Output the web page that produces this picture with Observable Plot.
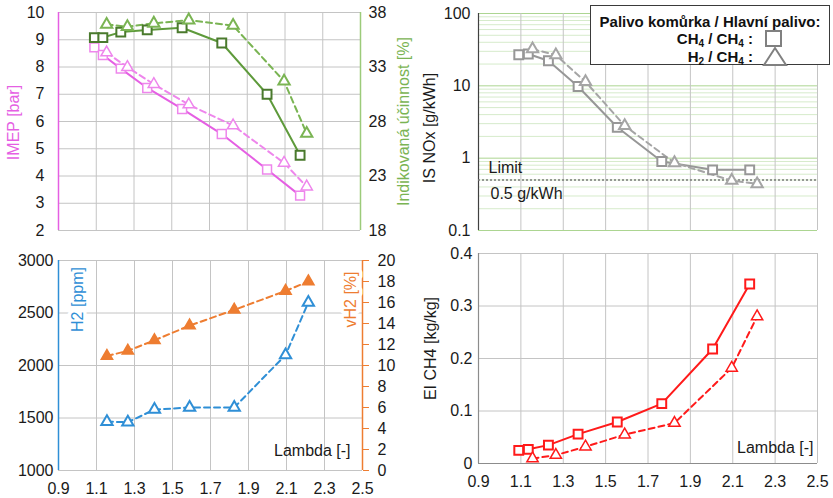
<!DOCTYPE html>
<html><head><meta charset="utf-8">
<script src="https://cdn.jsdelivr.net/npm/d3@7"></script>
<script src="https://cdn.jsdelivr.net/npm/@observablehq/plot@0.6"></script>
<style>
body{margin:0;background:#fff;font-family:"Liberation Sans",Arial,sans-serif;}
#wrap{position:relative;width:833px;height:498px;overflow:hidden;background:#fff;}
#legend{position:absolute;left:590px;top:5px;width:238px;height:58px;border:1.5px solid #3a3a3a;background:#fff;font-weight:bold;font-size:15px;color:#111;}
#legend span{position:absolute;white-space:nowrap;line-height:16px;}
#legend sub{font-size:10px;vertical-align:-3px;line-height:0;}
#legend svg{position:absolute;}
</style></head><body><div id="wrap"></div>
<script>
// ---------------- data ----------------
const lambdaCH4 = [1.09, 1.135, 1.23, 1.37, 1.555, 1.765, 2.005, 2.18];
const lambdaH2  = [1.155, 1.265, 1.405, 1.59, 1.825, 2.095, 2.215];

const imepCH4 = [8.72, 8.44, 7.94, 7.23, 6.46, 5.54, 4.24, 3.28];
const imepH2  = [8.53, 7.99, 7.37, 6.62, 5.85, 4.48, 3.61];
const effCH4  = [35.7, 35.7, 36.2, 36.4, 36.6, 35.2, 30.5, 24.9];
const effH2   = [36.9, 36.7, 37.0, 37.3, 36.8, 31.7, 26.9];

const noxCH4 = [26.9, 27.5, 22.2, 9.8, 2.67, 0.9, 0.69, 0.69];
const noxH2  = [32.2, 26.6, 11.4, 2.81, 0.86, 0.49, 0.44];
const noxLimit = 0.5;

const h2ppm = [1465, 1460, 1580, 1600, 1600, 2100, 2600];
const vH2   = [10.9, 11.4, 12.4, 13.8, 15.3, 17.1, 18.0];

const eiCH4_CH4 = [0.025, 0.027, 0.035, 0.056, 0.079, 0.114, 0.218, 0.342];
const eiCH4_H2  = [0.0095, 0.016, 0.032, 0.055, 0.077, 0.182, 0.280];

// ---------------- ticks / domains ----------------
const xDomain = [0.9, 2.5];
const xTicks = [0.9, 1.1, 1.3, 1.5, 1.7, 1.9, 2.1, 2.3, 2.5];
const imepDomain = [2, 10];
const imepTicks = [2, 3, 4, 5, 6, 7, 8, 9, 10];
const effDomain = [18, 38];
const effTicks = [18, 23, 28, 33, 38];
const noxDomain = [0.1, 100];
const noxTicks = [0.1, 1, 10, 100];
const noxMinorMult = [2, 3, 4, 5, 6, 7, 8, 9];
const h2Domain = [1000, 3000];
const h2Ticks = [1000, 1500, 2000, 2500, 3000];
const vh2Domain = [0, 20];
const vh2Ticks = [0, 2, 4, 6, 8, 10, 12, 14, 16, 18, 20];
const eiDomain = [0, 0.4];
const eiTicks = [0, 0.1, 0.2, 0.3, 0.4];

const labels = {
  imep: "IMEP [bar]", eff: "Indikovaná účinnost [%]", nox: "IS NOx [g/kWh]",
  h2: "H2 [ppm]", vh2: "vH2 [%]", ei: "EI CH4 [kg/kg]", lambda: "Lambda [-]",
  limit: "Limit", limitVal: "0.5 g/kWh"
};

// ---------------- styles ----------------
const GRID = "#c4c4c4";
const MAG = "#e55fe3", MAG_T = "#ee86ec";
const GR_LINE = "#5e9a3b", GR_MARK = "#4a7a2d", GR_T = "#7ab453", GR_AX = "#9ccb7a";
const GRAY_S = "#979797", GRAY_T = "#a5a5a5";
const BLUE = "#2f8fd6", ORANGE = "#ee7d31", RED = "#ff1a1a";
const FONT = '"Liberation Sans", Arial, sans-serif';
const baseStyle = {fontFamily: FONT, fontSize: "16px", background: "transparent", overflow: "visible", color: "#1a1a1a"};
const DASH = "6,4";

const rows = (xs, ys) => xs.map((x, i) => ({x, y: ys[i]}));
const lin = (d0, d1) => v => d1[0] + (v - d0[0]) * (d1[1] - d1[0]) / (d0[1] - d0[0]);
const effToImep = lin(effDomain, imepDomain), imepToEff = lin(imepDomain, effDomain);
const vToH2 = lin(vh2Domain, h2Domain), h2ToV = lin(h2Domain, vh2Domain);
const noxMinor = noxTicks.slice(0, -1).flatMap(d => noxMinorMult.map(m => d * m));

const wrap = document.getElementById("wrap");
function place(svg, left, top) {
  svg.style.position = "absolute"; svg.style.left = left + "px"; svg.style.top = top + "px";
  wrap.appendChild(svg);
}
const title = (t, anchor, dx, dy, fill, halo) => Plot.text([t], {
  text: d => d, frameAnchor: anchor, textAnchor: "middle", lineAnchor: "middle", rotate: -90, dx, dy, fill, fontSize: 16,
  ...(halo ? {stroke: "white", strokeWidth: 7} : {})
});
const TXT = "#1a1a1a";

// ---------------- top-left: IMEP + efficiency ----------------
place(Plot.plot({
  width: 420, height: 240, marginLeft: 58, marginRight: 60, marginTop: 12, marginBottom: 10,
  style: baseStyle,
  x: {domain: xDomain, axis: null},
  y: {domain: imepDomain, axis: null},
  marks: [
    Plot.gridX(xTicks, {stroke: GRID, strokeOpacity: 1}),
    Plot.gridY(imepTicks, {stroke: GRID, strokeOpacity: 1}),
    Plot.ruleX([xDomain[0]], {stroke: MAG, strokeWidth: 1.5}),
    Plot.ruleX([xDomain[1]], {stroke: GR_AX, strokeWidth: 1.5}),
    Plot.axisY(imepTicks, {anchor: "left", tickSize: 0, tickPadding: 14, fill: TXT, tickFormat: d => String(d), label: null}),
    Plot.axisY(effTicks.map(effToImep), {anchor: "right", tickSize: 0, tickPadding: 8, fill: TXT, tickFormat: d => String(Math.round(imepToEff(d))), label: null}),
    Plot.line(rows(lambdaCH4, imepCH4), {x: "x", y: "y", stroke: MAG, strokeWidth: 2}),
    Plot.line(rows(lambdaH2, imepH2), {x: "x", y: "y", stroke: MAG_T, strokeWidth: 2, strokeDasharray: DASH}),
    Plot.line(rows(lambdaCH4, effCH4.map(effToImep)), {x: "x", y: "y", stroke: GR_LINE, strokeWidth: 2}),
    Plot.line(rows(lambdaH2, effH2.map(effToImep)), {x: "x", y: "y", stroke: GR_T, strokeWidth: 2, strokeDasharray: DASH}),
    Plot.dot(rows(lambdaCH4, imepCH4), {x: "x", y: "y", symbol: "square", r: 5, stroke: MAG_T, fill: "white", strokeWidth: 1.5}),
    Plot.dot(rows(lambdaH2, imepH2), {x: "x", y: "y", symbol: "triangle", r: 4.2, stroke: MAG_T, fill: "white", strokeWidth: 1.5}),
    Plot.dot(rows(lambdaCH4, effCH4.map(effToImep)), {x: "x", y: "y", symbol: "square", r: 5, stroke: GR_MARK, fill: "white", strokeWidth: 2}),
    Plot.dot(rows(lambdaH2, effH2.map(effToImep)), {x: "x", y: "y", symbol: "triangle", r: 4.2, stroke: GR_T, fill: "white", strokeWidth: 2}),
    title(labels.imep, "left", -45, 1, MAG),
    title(labels.eff, "right", 43, 0, GR_T)
  ]
}), 0, 0);

// ---------------- top-right: NOx ----------------
place(Plot.plot({
  width: 413, height: 240, marginLeft: 58, marginRight: 16, marginTop: 13, marginBottom: 10,
  style: baseStyle,
  x: {domain: xDomain, axis: null},
  y: {type: "log", domain: noxDomain, axis: null},
  marks: [
    Plot.gridY(noxMinor, {stroke: "#d6ebcb", strokeOpacity: 1}),
    Plot.gridY(noxTicks, {stroke: "#acd591", strokeOpacity: 1}),
    Plot.gridX(xTicks.slice(1), {stroke: GRID, strokeOpacity: 1}),
    Plot.ruleX([xDomain[0]], {stroke: "#404040", strokeWidth: 1.2}),
    Plot.axisY(noxTicks, {anchor: "left", tickSize: 0, tickPadding: 8, fill: TXT, tickFormat: d => String(d), label: null}),
    Plot.ruleY([noxLimit], {stroke: "#7a7a7a", strokeDasharray: "2,2", strokeWidth: 1.5}),
    Plot.text([noxLimit], {y: d => d, frameAnchor: "left", text: () => labels.limit, textAnchor: "start", dx: 10, dy: -12, fontSize: 16, fill: TXT}),
    Plot.text([noxLimit], {y: d => d, frameAnchor: "left", text: () => labels.limitVal, textAnchor: "start", dx: 12, dy: 14, fontSize: 16, fill: TXT}),
    Plot.line(rows(lambdaCH4, noxCH4), {x: "x", y: "y", stroke: GRAY_S, strokeWidth: 2}),
    Plot.line(rows(lambdaH2, noxH2), {x: "x", y: "y", stroke: GRAY_T, strokeWidth: 2, strokeDasharray: DASH}),
    Plot.dot(rows(lambdaCH4, noxCH4), {x: "x", y: "y", symbol: "square", r: 5, stroke: GRAY_S, fill: "white", strokeWidth: 2}),
    Plot.dot(rows(lambdaH2, noxH2), {x: "x", y: "y", symbol: "triangle", r: 4.2, stroke: GRAY_T, fill: "white", strokeWidth: 2}),
    title(labels.nox, "left", -49, 6, TXT)
  ]
}), 420, 0);

// ---------------- bottom-left: H2 + vH2 ----------------
place(Plot.plot({
  width: 420, height: 258, marginLeft: 58, marginRight: 58, marginTop: 20, marginBottom: 28,
  style: baseStyle,
  x: {domain: xDomain, axis: null},
  y: {domain: h2Domain, axis: null},
  marks: [
    Plot.gridX(xTicks.slice(1, -1), {stroke: GRID, strokeOpacity: 1}),
    Plot.gridY(h2Ticks, {stroke: GRID, strokeOpacity: 1}),
    Plot.ruleX([xDomain[0]], {stroke: BLUE, strokeWidth: 1.5}),
    Plot.ruleX([xDomain[1]], {stroke: ORANGE, strokeWidth: 1.5}),
    Plot.axisX(xTicks, {anchor: "bottom", tickSize: 0, tickPadding: 12, fill: TXT, tickFormat: d => d.toFixed(1), label: null}),
    Plot.axisY(h2Ticks, {anchor: "left", tickSize: 0, tickPadding: 5, fill: TXT, tickFormat: d => String(d), label: null}),
    Plot.axisY(vh2Ticks.map(vToH2), {anchor: "right", tickSize: 6, tickPadding: 9, stroke: ORANGE, fill: TXT, tickFormat: d => String(Math.round(h2ToV(d))), label: null}),
    title(labels.h2, "left", 19, -66, BLUE, true),
    title(labels.vh2, "right", -12, -66, ORANGE, true),
    Plot.text([labels.lambda], {text: d => d, frameAnchor: "bottom-right", textAnchor: "end", dx: -12, dy: -15, fontSize: 16, fill: TXT}),
    Plot.line(rows(lambdaH2, vH2.map(vToH2)), {x: "x", y: "y", stroke: ORANGE, strokeWidth: 2, strokeDasharray: DASH}),
    Plot.line(rows(lambdaH2, h2ppm), {x: "x", y: "y", stroke: BLUE, strokeWidth: 2, strokeDasharray: DASH}),
    Plot.dot(rows(lambdaH2, vH2.map(vToH2)), {x: "x", y: "y", symbol: "triangle", r: 4.2, stroke: ORANGE, fill: ORANGE, strokeWidth: 1.5}),
    Plot.dot(rows(lambdaH2, h2ppm), {x: "x", y: "y", symbol: "triangle", r: 4.2, stroke: BLUE, fill: "white", strokeWidth: 2})
  ]
}), 0, 240);

// ---------------- bottom-right: EI CH4 ----------------
place(Plot.plot({
  width: 413, height: 258, marginLeft: 58, marginRight: 16, marginTop: 13, marginBottom: 35,
  style: baseStyle,
  x: {domain: xDomain, axis: null},
  y: {domain: eiDomain, axis: null},
  marks: [
    Plot.gridX(xTicks.slice(1), {stroke: GRID, strokeOpacity: 1}),
    Plot.gridY(eiTicks.slice(1), {stroke: GRID, strokeOpacity: 1}),
    Plot.ruleX([xDomain[0]], {stroke: "#8c8c8c", strokeWidth: 1.2}),
    Plot.ruleY([eiDomain[0]], {stroke: "#8c8c8c", strokeWidth: 1.2}),
    Plot.axisX(xTicks, {anchor: "bottom", tickSize: 0, tickPadding: 12, fill: TXT, tickFormat: d => d.toFixed(1), label: null}),
    Plot.axisY(eiTicks, {anchor: "left", tickSize: 0, tickPadding: 6, fill: TXT, tickFormat: d => d === 0 ? "0" : d.toFixed(1), label: null}),
    title(labels.ei, "left", -48, -10, TXT),
    Plot.text([labels.lambda], {text: d => d, frameAnchor: "bottom-right", textAnchor: "end", dx: -4, dy: -11, fontSize: 16, fill: TXT}),
    Plot.line(rows(lambdaCH4, eiCH4_CH4), {x: "x", y: "y", stroke: RED, strokeWidth: 2}),
    Plot.line(rows(lambdaH2, eiCH4_H2), {x: "x", y: "y", stroke: RED, strokeWidth: 2, strokeDasharray: DASH}),
    Plot.dot(rows(lambdaCH4, eiCH4_CH4), {x: "x", y: "y", symbol: "square", r: 5, stroke: RED, fill: "white", strokeWidth: 2}),
    Plot.dot(rows(lambdaH2, eiCH4_H2), {x: "x", y: "y", symbol: "triangle", r: 4.2, stroke: RED, fill: "white", strokeWidth: 1.5})
  ]
}), 420, 240);

// ---------------- legend ----------------
const legendTitle = "Palivo komůrka / Hlavní palivo:";
const legendItems = [
  {html: "CH<sub>4</sub> / CH<sub>4</sub> :", symbol: "square"},
  {html: "H<sub>2</sub> / CH<sub>4</sub> :", symbol: "triangle"}
];
const leg = document.createElement("div");
leg.id = "legend";
leg.innerHTML =
  `<span style="left:0;width:238px;text-align:center;top:8px">${legendTitle}</span>` +
  legendItems.map((it, i) =>
    `<span style="right:76px;top:${25 + i * 18}px">${it.html}</span>` +
    (it.symbol === "square"
      ? `<svg style="left:173px;top:23px" width="20" height="20"><rect x="2" y="2" width="15" height="15" fill="white" stroke="#808080" stroke-width="2"/></svg>`
      : `<svg style="left:171px;top:40px" width="26" height="22"><polygon points="2,19 13,2 24,19" fill="white" stroke="#808080" stroke-width="2"/></svg>`)
  ).join("");
wrap.appendChild(leg);
</script>
</body></html>
